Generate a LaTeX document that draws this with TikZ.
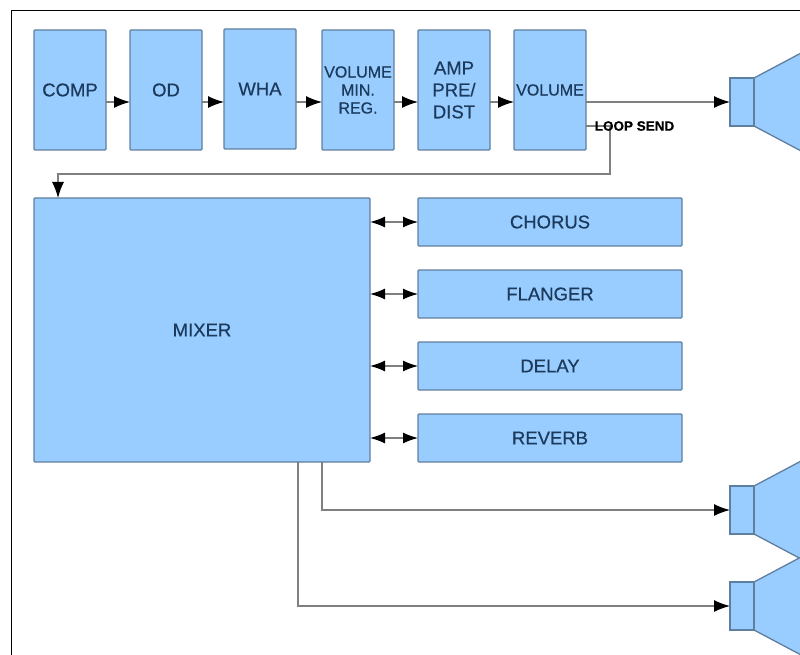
\documentclass[tikz,border=0pt]{standalone}
\usepackage{fontspec}
\setmainfont{Liberation Sans}[FakeBold=0.5]
\usetikzlibrary{arrows.meta}
\definecolor{panel}{HTML}{99CCFF}
\definecolor{edge}{HTML}{5F7F9E}
\definecolor{navy}{HTML}{1B3A5C}
\definecolor{wiregray}{HTML}{7F7F7F}
\begin{document}
\begin{tikzpicture}[x=1pt,y=-1pt,font=\fontsize{18.5}{22}\selectfont,
    block/.style={draw=edge,line width=1.3pt,rounded corners=1pt,fill=panel,
                  text=navy,inner sep=0pt,outer sep=0pt,align=center},
    stage/.style={block,minimum width=72pt,minimum height=120pt},
    small/.style={font=\fontsize{16}{18}\selectfont},
    effect/.style={block,minimum width=264pt,minimum height=48pt},
    throat/.style={block,rounded corners=0pt,minimum width=24pt,minimum height=48pt},
    cone/.style={draw=edge,line width=1.3pt,fill=panel},
    wire/.style={draw=wiregray,line width=1.3pt,
                 -{Latex[black,length=16pt,width=12pt]}},
    both/.style={draw=wiregray,line width=1.3pt,
                 {Latex[black,length=15pt,width=11pt]}-{Latex[black,length=15pt,width=11pt]}}]
  \useasboundingbox (0,0) rectangle (800,655);
  \draw[black,line width=1pt] (11,655) -- (11,10.5) -- (800,10.5);

  \node[stage] (comp) at (70,90) {COMP};
  \node[stage] (od) at (166,90) {OD};
  \node[stage] (wha) at (260,89) {WHA};
  \node[stage,small] (minreg) at (358,90) {VOLUME\\MIN.\\REG.};
  \node[stage] (amp) at (454,90) {AMP\\PRE/\\DIST};
  \node[stage,small] (volume) at (550,90) {VOLUME};

  \node[block,minimum width=336pt,minimum height=264pt] (mixer) at (202,330) {MIXER};
  \node[effect] (chorus) at (550,222) {CHORUS};
  \node[effect] (flanger) at (550,294) {FLANGER};
  \node[effect] (delay) at (550,366) {DELAY};
  \node[effect] (reverb) at (550,438) {REVERB};

  \filldraw[cone] (754,78) -- (803,52) -- (803,152) -- (754,126) -- cycle;
  \filldraw[cone] (754,486) -- (803,460) -- (803,560) -- (754,534) -- cycle;
  \filldraw[cone] (754,582) -- (803,556) -- (803,656) -- (754,630) -- cycle;
  \node[throat] (spka) at (742,102) {};
  \node[throat] (spkb) at (742,510) {};
  \node[throat] (spkc) at (742,606) {};

  \draw[wire] ([yshift=-12pt]comp.east) -- ([yshift=-12pt]od.west);
  \draw[wire] ([yshift=-12pt]od.east) -- ([yshift=-12pt]od.east -| wha.west);
  \draw[wire] ([yshift=-13pt]wha.east) -- ([yshift=-13pt]wha.east -| minreg.west);
  \draw[wire] ([yshift=-12pt]minreg.east) -- ([yshift=-12pt]amp.west);
  \draw[wire] ([yshift=-12pt]amp.east) -- ([yshift=-12pt]volume.west);
  \draw[wire] (volume.east |- spka) -- (spka);

  \coordinate (sendout) at (586,126);
  \coordinate (sendturn) at (610,174);
  \coordinate (mixerin) at (58,198);
  \draw[wire] (sendout) -| (sendturn) -| (mixerin);
  \node[inner sep=0pt,font=\fontsize{13.5}{15}\selectfont\bfseries] (send) at (634.5,126) {LOOP SEND};

  \foreach \fx in {chorus,flanger,delay,reverb}
    \draw[both] (mixer.east |- \fx) -- (\fx);

  \coordinate (outb) at (322,462);
  \coordinate (outc) at (298,462);
  \draw[wire] (outb) |- (spkb);
  \draw[wire] (outc) |- (spkc);
\end{tikzpicture}
\end{document}
